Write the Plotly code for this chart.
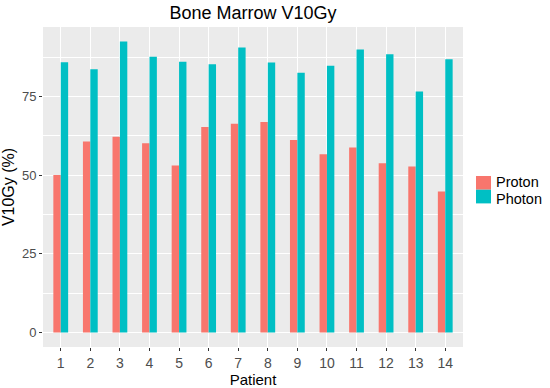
import plotly.graph_objects as go

patients = list(range(1, 15))
patient_labels = [str(p) for p in patients]
series_names = ["Proton", "Photon"]
series_colors = ["#F8766D", "#00BFC4"]
proton = [50.1, 60.7, 62.2, 60.2, 53.1, 65.3, 66.4, 66.9, 61.2, 56.7, 58.8, 53.8, 52.8, 44.8]
photon = [85.9, 83.7, 92.5, 87.7, 86.1, 85.3, 90.6, 85.8, 82.6, 84.8, 90.0, 88.5, 76.6, 86.9]

FONT = "Liberation Sans, Arial, sans-serif"
W, H = 550, 388
ML, MR, MT, MB = 43, 87, 27, 41
PW, PH = W - ML - MR, H - MT - MB


def px(x):
    return (x - ML) / PW


def py(y):
    return (H - MB - y) / PH


fig = go.Figure()
for name, color, vals in zip(series_names, series_colors, [proton, photon]):
    fig.add_trace(go.Bar(x=patients, y=vals, name=name, showlegend=False,
                         marker=dict(color=color, line=dict(width=0))))

# legend drawn as keys + labels (ggplot style)
KEY_TOP, KEY_H = 176, 13.7
split = KEY_TOP + KEY_H
for i, (name, color) in enumerate(zip(series_names, series_colors)):
    top = KEY_TOP + i * KEY_H
    fig.add_shape(type="rect", xref="paper", yref="paper",
                  x0=px(476), x1=px(491), y0=py(top + KEY_H), y1=py(top),
                  fillcolor=color, line=dict(width=0))
    fig.add_annotation(xref="paper", yref="paper", x=px(495), y=py(split + (1 if i == 0 else 0)),
                       text=name, showarrow=False, xanchor="left",
                       yanchor="bottom" if i == 0 else "top",
                       borderpad=0, font=dict(family=FONT, size=14.5, color="black"))

ymax = max(max(proton), max(photon))
fig.update_layout(
    width=W, height=H,
    margin=dict(l=ML, r=MR, t=MT, b=MB, autoexpand=False),
    paper_bgcolor="white",
    plot_bgcolor="#EBEBEB",
    barmode="group", bargap=0.5, bargroupgap=0,
    showlegend=False,
    title=dict(text="Bone Marrow V10Gy", x=253 / W, xanchor="center", y=1 - 13 / H, yanchor="middle",
               yref="container", font=dict(family=FONT, size=18, color="black")),
    font=dict(family=FONT),
    xaxis=dict(range=[0.4, 14.6], tickmode="array", tickvals=patients, ticktext=patient_labels,
               showgrid=True, gridcolor="white", gridwidth=1.1, zeroline=False,
               ticks="outside", ticklen=3, tickcolor="#333333",
               tickfont=dict(size=14, color="#4D4D4D"),
               title=dict(text="Patient", font=dict(size=15, color="black"), standoff=0)),
    yaxis=dict(range=[-0.05 * ymax, 1.05 * ymax], tickmode="array", tickvals=[0, 25, 50, 75],
               showgrid=True, gridcolor="white", gridwidth=1.1, zeroline=False,
               minor=dict(tickmode="array", tickvals=[12.5, 37.5, 62.5, 87.5], showgrid=True,
                          gridcolor="white", gridwidth=0.5),
               ticks="outside", ticklen=3, tickcolor="#333333",
               tickfont=dict(size=13, color="#4D4D4D"),
               title=dict(text="V10Gy (%)", font=dict(size=16, color="black"), standoff=3)),
)

fig.write_html("out.html", config={"displayModeBar": False},
               post_script="document.body.style.margin='0';")
